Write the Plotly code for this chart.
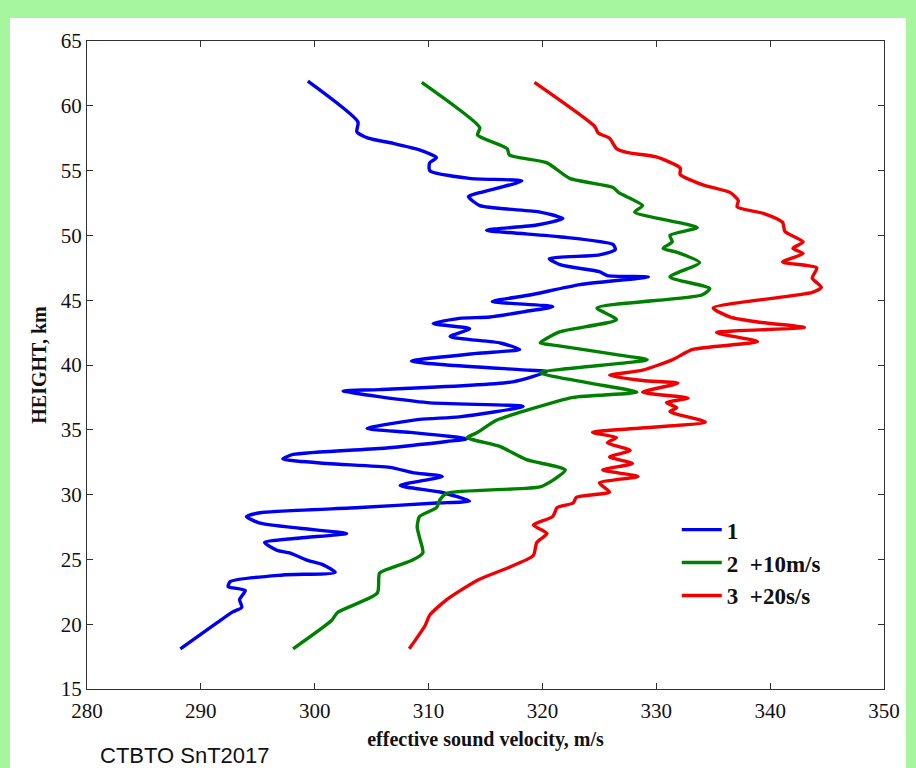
import plotly.graph_objects as go

# Curve 1 (blue): effective sound velocity (m/s) vs height (km)
v1 = [299.4, 303.8, 303.7, 304.7, 306.9, 309.2, 310.7, 310.1, 310.1, 313.6, 318.2, 314.5, 313.5, 314.5,
      319.8, 321.8, 319.5, 315.1, 321.5, 326.2, 326.4, 325.0, 320.6, 321.7, 325.0, 325.7, 329.3, 323.3,
      318.9, 315.6, 320.9, 318.3, 315.4, 312.7, 310.4, 313.6, 311.9, 316.3, 318.0, 314.2, 308.5, 311.6,
      318.9, 320.4, 317.4, 305.7, 302.5, 309.9, 318.3, 312.7, 309.2, 304.6, 308.4, 313.4, 311.6, 306.3,
      298.1, 297.2, 301.1, 306.6, 308.6, 311.2, 307.5, 311.0, 313.6, 310.7, 304.0, 295.2, 294.0, 295.2,
      298.7, 302.8, 298.7, 295.6, 296.7, 297.8, 299.3, 300.7, 301.8, 297.2, 292.6, 292.4, 293.9, 293.4,
      293.6, 292.8, 291.4, 288.2]
h1 = [61.9, 58.75, 58.0, 57.5, 57.1, 56.6, 56.0, 55.6, 55.0, 54.4, 54.2, 53.3, 53.0, 52.3,
      51.8, 51.3, 50.8, 50.4, 49.9, 49.3, 48.9, 48.5, 48.2, 47.7, 47.2, 46.9, 46.8, 46.2,
      45.4, 44.9, 44.5, 44.1, 43.7, 43.6, 43.2, 42.8, 42.2, 41.7, 41.2, 40.9, 40.3, 40.0,
      39.6, 39.5, 38.7, 38.1, 38.0, 37.1, 36.8, 36.0, 35.8, 35.1, 34.8, 34.3, 34.1, 33.6,
      33.1, 32.75, 32.4, 32.1, 31.7, 31.4, 30.7, 30.2, 29.5, 29.35, 29.0, 28.6, 28.3, 27.8,
      27.4, 27.0, 26.65, 26.3, 25.7, 25.5, 24.95, 24.6, 24.0, 23.8, 23.3, 22.9, 22.6, 21.9,
      21.3, 20.95, 20.1, 18.1]

# Curve 2 (green, +10 m/s)
v2 = [309.4, 314.5, 314.3, 316.9, 317.1, 320.4, 322.4, 326.2, 326.7, 328.8, 328.1, 333.6, 331.2, 331.4,
      330.6, 331.8, 333.8, 331.2, 334.7, 334.0, 324.8, 326.5, 321.5, 319.8, 321.3, 326.5, 329.2, 319.8,
      324.2, 328.3, 322.7, 318.6, 316.0, 314.2, 313.4, 316.3, 318.6, 322.0, 320.9, 319.8, 311.6, 311.0,
      310.7, 309.2, 309.0, 309.2, 309.5, 308.6, 306.9, 305.7, 305.5, 302.0, 301.5, 298.1]
h2 = [61.8, 58.3, 57.75, 56.7, 56.2, 55.6, 54.4, 53.7, 53.3, 52.3, 51.8, 50.6, 50.0, 49.5,
      49.0, 48.7, 47.9, 46.8, 45.9, 45.4, 44.4, 43.5, 42.55, 41.7, 41.5, 40.8, 40.4, 39.4,
      38.6, 37.9, 37.5, 36.5, 35.75, 34.75, 34.4, 33.7, 32.7, 31.9, 31.1, 30.6, 30.1, 29.6,
      29.0, 28.3, 27.5, 26.7, 25.5, 24.95, 24.4, 23.95, 22.4, 20.9, 20.3, 18.1]

# Curve 3 (red, +20 m/s)
v3 = [319.3, 324.6, 324.9, 325.9, 326.5, 327.4, 330.0, 332.1, 332.1, 334.1, 336.5, 337.2, 337.1, 339.4,
      341.1, 341.3, 342.9, 342.0, 342.9, 341.1, 344.1, 343.7, 344.5, 343.7, 335.0, 336.5, 339.1, 343.0,
      335.3, 338.9, 333.2, 331.4, 328.8, 325.9, 328.8, 331.9, 328.8, 332.8, 330.9, 331.8, 331.2, 334.3,
      324.4, 326.5, 325.7, 327.7, 325.9, 327.9, 325.3, 328.4, 325.0, 325.9, 323.0, 322.7, 321.3, 320.9,
      319.2, 320.4, 319.5, 319.2, 317.1, 314.3, 311.6, 310.1, 309.7, 308.3]
h3 = [61.8, 58.4, 57.9, 57.5, 56.7, 56.4, 56.05, 55.2, 54.7, 53.9, 53.3, 52.7, 52.2, 51.7,
      51.0, 50.3, 49.5, 49.0, 48.6, 47.95, 47.5, 46.7, 46.0, 45.6, 44.4, 43.7, 43.3, 42.9,
      42.5, 41.8, 41.2, 40.4, 39.6, 39.2, 38.8, 38.6, 37.9, 37.45, 37.1, 36.7, 36.4, 35.6,
      34.8, 34.4, 34.0, 33.4, 32.9, 32.4, 31.9, 31.4, 30.9, 30.2, 29.8, 29.35, 29.0, 28.3,
      27.65, 27.0, 26.3, 25.3, 24.4, 23.4, 21.9, 20.7, 19.9, 18.1]

names = ["<b>1</b>", "<b>2  +10m/s</b>", "<b>3  +20s/s</b>"]
colors = ["#0000f0", "#008000", "#f00000"]

x_ticks = [280, 290, 300, 310, 320, 330, 340, 350]
y_ticks = [15, 20, 25, 30, 35, 40, 45, 50, 55, 60, 65]

fig = go.Figure()
for v, h, n, c in zip([v1, v2, v3], [h1, h2, h3], names, colors):
    fig.add_trace(go.Scatter(x=v, y=h, mode="lines", name=n,
                             line=dict(color=c, width=3.4, shape="spline", smoothing=0.6)))

serif = "Liberation Serif"
axis_common = dict(showline=True, linecolor="#303030", linewidth=1, mirror="ticks",
                   ticks="inside", ticklen=6, tickcolor="#303030", showgrid=False,
                   zeroline=False, tickfont=dict(family=serif, size=21, color="#111"))

fig.update_xaxes(range=[280, 350], tickvals=x_ticks, ticktext=[str(t) for t in x_ticks],
                 ticklabelstandoff=3,
                 title=dict(text="<b>effective sound velocity, m/s</b>",
                            font=dict(family=serif, size=20, color="#111"), standoff=9),
                 **axis_common)
fig.update_yaxes(range=[15, 65], tickvals=y_ticks, ticktext=[str(t) for t in y_ticks],
                 title=dict(text="<b>HEIGHT, km</b>",
                            font=dict(family=serif, size=20, color="#111"), standoff=8),
                 **axis_common)

fig.update_layout(
    width=916, height=768,
    margin=dict(l=87, r=32, t=41, b=79),
    paper_bgcolor="#a6f59f",
    plot_bgcolor="white",
    showlegend=True,
    legend=dict(x=0.74, y=0.279, xanchor="left", yanchor="top",
                bgcolor="rgba(0,0,0,0)", borderwidth=0,
                font=dict(family=serif, size=23, color="#111"),
                tracegroupgap=0, itemwidth=40),
    shapes=[dict(type="rect", xref="paper", yref="paper", layer="below",
                 x0=-0.0966, x1=1.0276, y0=-0.13, y1=1.0355,
                 fillcolor="white", line=dict(width=0))],
    annotations=[dict(text="CTBTO SnT2017", xref="paper", yref="paper",
                      x=0.0138, y=-0.102, xanchor="left", yanchor="middle",
                      showarrow=False,
                      font=dict(family="Liberation Sans", size=22, color="#111"))],
)

fig.write_html("out.html", config={"displayModeBar": False},
               post_script="document.body.style.margin='0px';document.body.style.overflow='hidden';")
